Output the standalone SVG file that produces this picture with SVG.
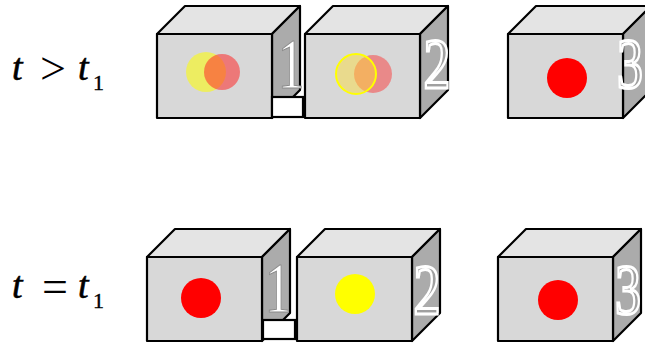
<svg xmlns="http://www.w3.org/2000/svg" xmlns:xlink="http://www.w3.org/1999/xlink" width="645" height="350" viewBox="0 0 645 350">
  <style>
    .front { fill: #d8d8d8; stroke: #000; stroke-width: 2.2; stroke-linejoin: round; }
    .top { fill: #e4e4e4; stroke: #000; stroke-width: 2.2; stroke-linejoin: round; }
    .side { fill: #ababab; stroke: #000; stroke-width: 2.2; stroke-linejoin: round; }
    .num { font-family: "Liberation Serif", "Times New Roman", serif; font-size: 72px; text-anchor: middle; }
    .num1 { fill: #ffffff; stroke: #8a8a8a; stroke-width: 1; }
    .numh { fill: #a0a0a0; stroke: #ffffff; stroke-width: 3; }
    .lbl { font-family: "Liberation Serif", "Times New Roman", serif; font-size: 38px; fill: #000; stroke: #000; stroke-width: 0.6; }
    .op { font-family: "Liberation Serif", "Times New Roman", serif; font-size: 46px; fill: #000; text-anchor: middle; }
    .it { font-style: italic; }
    .sub { font-family: "Liberation Serif", "Times New Roman", serif; font-size: 22px; fill: #000; stroke: #000; stroke-width: 0.4; }
    .pipe { fill: #ffffff; stroke: #000; stroke-width: 2.2; }
  </style>
  <defs>
    <g id="box">
      <polygon class="top" points="0,0 28,-28 143,-28 115,0"/>
      <polygon class="side" points="115,0 143,-28 143,56 115,84"/>
      <rect class="front" x="0" y="0" width="115" height="84"/>
    </g>
  </defs>

  <!-- labels -->
  <g id="label-top">
    <text class="lbl it" x="12" y="80">t</text>
    <text class="op" x="53" y="84">&gt;</text>
    <text class="lbl it" x="78" y="80">t</text>
    <text class="sub" x="93" y="90">1</text>
  </g>
  <g id="label-bottom">
    <text class="lbl it" x="12" y="298">t</text>
    <text class="op" x="55" y="302">=</text>
    <text class="lbl it" x="78" y="298">t</text>
    <text class="sub" x="93" y="308">1</text>
  </g>

  <!-- top row -->
  <g id="top-box1">
    <use xlink:href="#box" x="157" y="34"/>
    <circle cx="206" cy="72" r="20" fill="#ffff00" fill-opacity="0.55"/>
    <circle cx="222" cy="72" r="18" fill="#ff2a2a" fill-opacity="0.55"/>
    <text class="num num1" transform="translate(291,88) scale(0.75,1)">1</text>
  </g>
  <g id="top-box2">
    <use xlink:href="#box" x="305" y="34"/>
    <circle cx="373" cy="74" r="19" fill="#ff2a2a" fill-opacity="0.45"/>
    <circle cx="356" cy="74" r="20" fill="#ffdd33" fill-opacity="0.45" stroke="#ffff00" stroke-width="2"/>
    <text class="num numh" transform="translate(437,88) scale(0.75,1)">2</text>
  </g>
  <g id="top-box3">
    <use xlink:href="#box" x="508" y="34"/>
    <circle cx="567" cy="78" r="20" fill="#ff0000"/>
    <text class="num numh" transform="translate(630,88) scale(0.72,1)">3</text>
  </g>

  <!-- bottom row -->
  <g id="bottom-box1">
    <use xlink:href="#box" x="147" y="257"/>
    <circle cx="201" cy="298" r="20" fill="#ff0000"/>
    <text class="num num1" transform="translate(278,312) scale(0.75,1)">1</text>
  </g>
  <g id="bottom-box2">
    <use xlink:href="#box" x="297" y="257"/>
    <circle cx="355" cy="294" r="20" fill="#ffff00"/>
    <text class="num numh" transform="translate(427,314) scale(0.75,1)">2</text>
  </g>
  <g id="bottom-box3">
    <use xlink:href="#box" x="498" y="257"/>
    <circle cx="558" cy="300" r="20" fill="#ff0000"/>
    <text class="num numh" transform="translate(628,314) scale(0.72,1)">3</text>
  </g>

  <g id="connectors">
    <rect class="pipe" x="272" y="97" width="31" height="20"/>
    <rect class="pipe" x="263" y="320" width="32" height="19"/>
  </g>
</svg>
